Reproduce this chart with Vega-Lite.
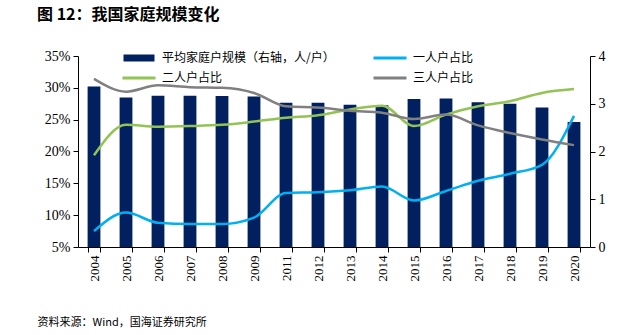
{
  "$schema": "https://vega.github.io/schema/vega-lite/v6.json",
  "width": 512,
  "height": 191,
  "autosize": {"type": "none"},
  "padding": {"left": 78, "top": 56, "right": 41, "bottom": 88},
  "background": "white",
  "title": {"text": "图 12：我国家庭规模变化", "anchor": "start", "frame": "group", "dx": -41, "offset": 26, "font": "Noto Sans CJK SC", "fontSize": 16, "fontWeight": "bold", "color": "#000"},
  "config": {
    "view": {"stroke": null},
    "axis": {"labelFont": "Liberation Serif", "labelFontSize": 13, "labelColor": "#000", "domainColor": "#000", "tickColor": "#000", "grid": false, "tickSize": 5}
  },
  "data": {"values": [
    {"year": "2004", "series": "平均家庭户规模（右轴，人/户）", "value": 3.36},
    {"year": "2005", "series": "平均家庭户规模（右轴，人/户）", "value": 3.13},
    {"year": "2006", "series": "平均家庭户规模（右轴，人/户）", "value": 3.17},
    {"year": "2007", "series": "平均家庭户规模（右轴，人/户）", "value": 3.17},
    {"year": "2008", "series": "平均家庭户规模（右轴，人/户）", "value": 3.16},
    {"year": "2009", "series": "平均家庭户规模（右轴，人/户）", "value": 3.15},
    {"year": "2011", "series": "平均家庭户规模（右轴，人/户）", "value": 3.02},
    {"year": "2012", "series": "平均家庭户规模（右轴，人/户）", "value": 3.02},
    {"year": "2013", "series": "平均家庭户规模（右轴，人/户）", "value": 2.98},
    {"year": "2014", "series": "平均家庭户规模（右轴，人/户）", "value": 2.97},
    {"year": "2015", "series": "平均家庭户规模（右轴，人/户）", "value": 3.10},
    {"year": "2016", "series": "平均家庭户规模（右轴，人/户）", "value": 3.11},
    {"year": "2017", "series": "平均家庭户规模（右轴，人/户）", "value": 3.03},
    {"year": "2018", "series": "平均家庭户规模（右轴，人/户）", "value": 3.00},
    {"year": "2019", "series": "平均家庭户规模（右轴，人/户）", "value": 2.92},
    {"year": "2020", "series": "平均家庭户规模（右轴，人/户）", "value": 2.62},
    {"year": "2004", "series": "一人户占比", "value": 0.075},
    {"year": "2005", "series": "一人户占比", "value": 0.104},
    {"year": "2006", "series": "一人户占比", "value": 0.088},
    {"year": "2007", "series": "一人户占比", "value": 0.086},
    {"year": "2008", "series": "一人户占比", "value": 0.086},
    {"year": "2009", "series": "一人户占比", "value": 0.096},
    {"year": "2011", "series": "一人户占比", "value": 0.135},
    {"year": "2012", "series": "一人户占比", "value": 0.136},
    {"year": "2013", "series": "一人户占比", "value": 0.139},
    {"year": "2014", "series": "一人户占比", "value": 0.145},
    {"year": "2015", "series": "一人户占比", "value": 0.123},
    {"year": "2016", "series": "一人户占比", "value": 0.138},
    {"year": "2017", "series": "一人户占比", "value": 0.154},
    {"year": "2018", "series": "一人户占比", "value": 0.165},
    {"year": "2019", "series": "一人户占比", "value": 0.179},
    {"year": "2020", "series": "一人户占比", "value": 0.256},
    {"year": "2004", "series": "二人户占比", "value": 0.194},
    {"year": "2005", "series": "二人户占比", "value": 0.242},
    {"year": "2006", "series": "二人户占比", "value": 0.239},
    {"year": "2007", "series": "二人户占比", "value": 0.240},
    {"year": "2008", "series": "二人户占比", "value": 0.242},
    {"year": "2009", "series": "二人户占比", "value": 0.247},
    {"year": "2011", "series": "二人户占比", "value": 0.253},
    {"year": "2012", "series": "二人户占比", "value": 0.257},
    {"year": "2013", "series": "二人户占比", "value": 0.266},
    {"year": "2014", "series": "二人户占比", "value": 0.272},
    {"year": "2015", "series": "二人户占比", "value": 0.240},
    {"year": "2016", "series": "二人户占比", "value": 0.258},
    {"year": "2017", "series": "二人户占比", "value": 0.271},
    {"year": "2018", "series": "二人户占比", "value": 0.279},
    {"year": "2019", "series": "二人户占比", "value": 0.292},
    {"year": "2020", "series": "二人户占比", "value": 0.298},
    {"year": "2004", "series": "三人户占比", "value": 0.314},
    {"year": "2005", "series": "三人户占比", "value": 0.294},
    {"year": "2006", "series": "三人户占比", "value": 0.304},
    {"year": "2007", "series": "三人户占比", "value": 0.301},
    {"year": "2008", "series": "三人户占比", "value": 0.300},
    {"year": "2009", "series": "三人户占比", "value": 0.292},
    {"year": "2011", "series": "三人户占比", "value": 0.271},
    {"year": "2012", "series": "三人户占比", "value": 0.269},
    {"year": "2013", "series": "三人户占比", "value": 0.264},
    {"year": "2014", "series": "三人户占比", "value": 0.261},
    {"year": "2015", "series": "三人户占比", "value": 0.251},
    {"year": "2016", "series": "三人户占比", "value": 0.258},
    {"year": "2017", "series": "三人户占比", "value": 0.241},
    {"year": "2018", "series": "三人户占比", "value": 0.229},
    {"year": "2019", "series": "三人户占比", "value": 0.219},
    {"year": "2020", "series": "三人户占比", "value": 0.210}
  ]},
  "encoding": {
    "x": {
      "field": "year", "type": "nominal", "sort": null,
      "scale": {"paddingInner": 0.6, "paddingOuter": 0.3},
      "axis": {
        "labelAngle": 270, "tickBand": "extent", "labelPadding": 3,
        "labelFont": "Liberation Serif", "labelFontSize": 13,
        "title": "资料来源：Wind，国海证券研究所",
        "titleFont": "Noto Sans CJK SC", "titleFontSize": 11, "titleFontWeight": "normal", "titleColor": "#000",
        "titleX": -41, "titleY": 75, "titleAnchor": "start", "titleAlign": "left", "titleBaseline": "middle", "titleAngle": 0
      }
    }
  },
  "layer": [
    {
      "transform": [{"filter": "datum.series === '平均家庭户规模（右轴，人/户）'"}],
      "mark": {"type": "bar", "color": "#002060"},
      "encoding": {
        "y": {"field": "value", "type": "quantitative", "scale": {"domain": [0, 4]},
              "axis": {"orient": "right", "values": [0, 1, 2, 3, 4], "title": null, "labelPadding": 3, "labelFont": "Liberation Serif", "labelFontSize": 14}},
        "color": {
          "field": "series", "type": "nominal",
          "scale": {"domain": ["平均家庭户规模（右轴，人/户）", "一人户占比", "二人户占比", "三人户占比"], "range": ["#002060", "#00b0f0", "#92c353", "#808080"]},
          "legend": {
            "orient": "none", "direction": "horizontal", "legendX": 55, "legendY": -4, "columns": 2, "columnPadding": 38, "rowPadding": 8, "padding": 0,
            "title": null, "symbolSize": 100, "labelOffset": 17, "labelFont": "Noto Sans CJK SC", "labelFontSize": 12, "labelColor": "#000", "labelLimit": 300,
            "encode": {
              "symbols": {
                "update": {
                  "shape": {"signal": "datum.value === '平均家庭户规模（右轴，人/户）' ? 'M-3.1,-0.7H3.1V0.7H-3.1Z' : 'M-3.3,-0.28H3.3V0.28H-3.3Z'"},
                  "fill": {"scale": "color", "field": "value"},
                  "stroke": {"value": "transparent"},
                  "strokeWidth": {"value": 0},
                  "opacity": {"value": 1},
                  "fillOpacity": {"value": 1}
                }
              }
            }
          }
        }
      }
    },
    {
      "transform": [{"filter": "datum.series !== '平均家庭户规模（右轴，人/户）'"}],
      "mark": {"type": "line", "interpolate": "monotone", "strokeWidth": 2.5},
      "encoding": {
        "y": {"field": "value", "type": "quantitative", "scale": {"domain": [0.05, 0.35]},
              "axis": {"orient": "left", "values": [0.05, 0.1, 0.15, 0.2, 0.25, 0.3, 0.35], "format": ".0%", "title": null, "labelPadding": 3, "labelFont": "Liberation Serif", "labelFontSize": 14}},
        "color": {"field": "series", "type": "nominal"}
      }
    }
  ],
  "resolve": {"scale": {"y": "independent"}}
}
